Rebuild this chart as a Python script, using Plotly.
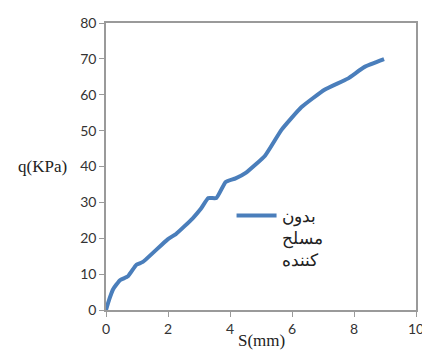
import plotly.graph_objects as go

s_mm = [0, 0.11, 0.23, 0.45, 0.71, 0.98, 1.19, 1.99, 2.26, 2.79, 3.06, 3.30, 3.56, 3.86, 4.18, 4.52, 5.13, 5.66, 6.30, 7.05, 7.80, 8.33, 8.97]
q_kpa = [0, 3.1, 5.8, 8.3, 9.4, 12.6, 13.4, 19.7, 21.2, 25.5, 28.2, 31.2, 31.2, 35.7, 36.7, 38.3, 43.0, 50.2, 56.5, 61.4, 64.5, 67.7, 69.9]
series_name = "بدون<br>مسلح<br>کننده"
x_ticks = [0, 2, 4, 6, 8, 10]
y_ticks = [0, 10, 20, 30, 40, 50, 60, 70, 80]

tick_font = dict(family="Lato, Carlito, sans-serif", size=14, color="#333333")
title_font = dict(family="Liberation Serif, serif", size=17, color="#222222")
axis_col = "#9a9a9a"

fig = go.Figure()
fig.add_trace(go.Scatter(x=s_mm, y=q_kpa, mode="lines", name=series_name,
                         line=dict(color="#4A7EBB", width=4, shape="spline", smoothing=0.4),
                         showlegend=True))

# page has an 8px body margin, so the figure is made 8px smaller and shifted
fig.update_layout(
    width=422, height=343,
    margin=dict(l=98, r=9, t=6, b=41),
    paper_bgcolor="white", plot_bgcolor="white",
    showlegend=True,
    legend=dict(x=0.405, y=0.39, xanchor="left", yanchor="top",
                font=dict(family="Liberation Serif, serif", size=17, color="#222222"),
                bgcolor="rgba(0,0,0,0)", valign="top", itemwidth=40),
    xaxis=dict(range=[0, 10], tickvals=x_ticks, showgrid=False, zeroline=False,
               showline=True, linecolor=axis_col, linewidth=1.5, mirror=True,
               ticks="outside", ticklen=5, tickcolor=axis_col, tickfont=tick_font,
               ticklabeloverflow="allow"),
    yaxis=dict(range=[0, 80], tickvals=y_ticks, showgrid=False, zeroline=False,
               showline=True, linecolor=axis_col, linewidth=1.5, mirror=True,
               ticks="outside", ticklen=5, tickcolor=axis_col, tickfont=tick_font,
               ticklabeloverflow="allow"),
    annotations=[
        dict(text="q(KPa)", xref="paper", yref="paper", x=0, y=(310 - 162) / 296,
             xanchor="right", yanchor="middle", showarrow=False, xshift=-37,
             font=title_font),
        dict(text="S(mm)", xref="paper", yref="paper", x=0.5, y=0,
             xanchor="center", yanchor="middle", showarrow=False, yshift=-30,
             font=title_font),
    ],
)

fig.write_html("out.html")
